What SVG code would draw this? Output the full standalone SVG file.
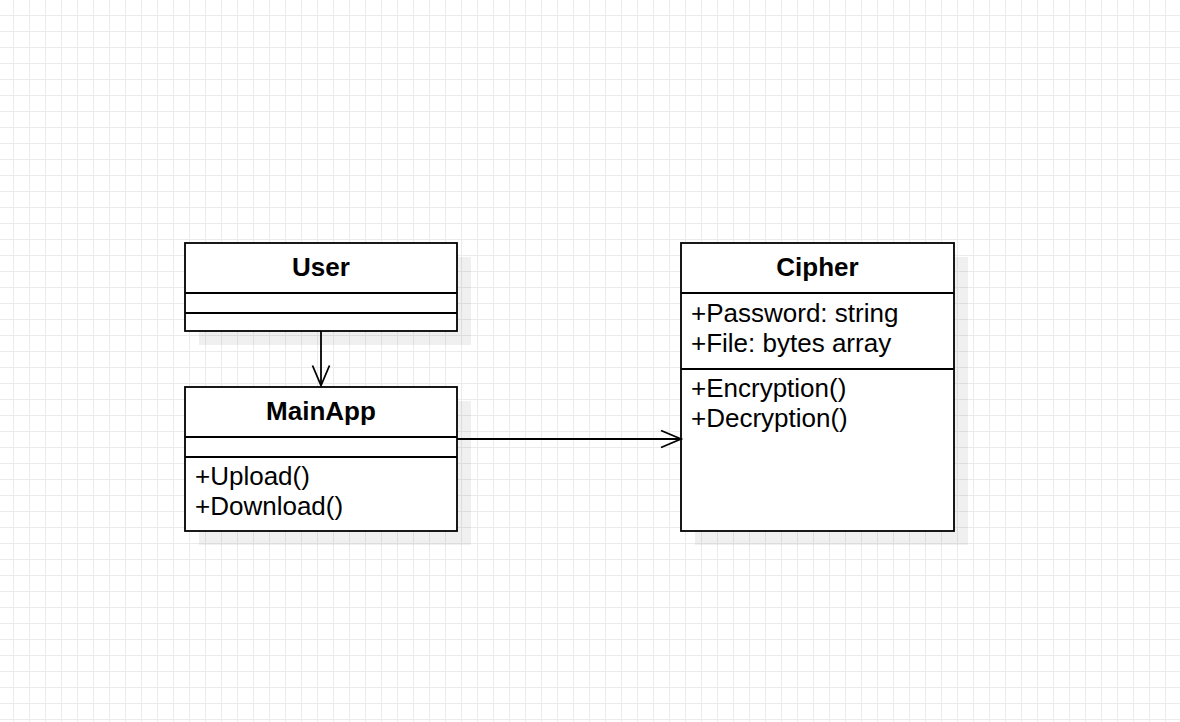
<svg xmlns="http://www.w3.org/2000/svg" width="1180" height="722" viewBox="0 0 1180 722">
<style>
.box{fill:#ffffff;stroke:#000000;stroke-width:1.8}
.div{stroke:#000000;stroke-width:1.8;fill:none}
.shadow{fill:#000000;fill-opacity:0.06}
.title{font-family:"Liberation Sans",Arial,sans-serif;font-size:26px;font-weight:bold;fill:#000;text-anchor:middle}
.row{font-family:"Liberation Sans",Arial,sans-serif;font-size:26px;fill:#000}
.edge{stroke:#000;stroke-width:1.8;fill:none}
</style>
<defs>
<pattern id="grid" x="13" y="15" width="16" height="16" patternUnits="userSpaceOnUse">
<rect x="0" y="0" width="1" height="16" fill="#ebebeb"/>
<rect x="0" y="0" width="16" height="1" fill="#ebebeb"/>
</pattern>
</defs>
<rect x="0" y="0" width="1180" height="722" fill="#ffffff"/>
<rect x="0" y="0" width="1180" height="722" fill="url(#grid)"/>
<g id="User">
<rect class="shadow" x="199" y="257" width="272" height="88"/>
<rect class="box" x="185" y="243" width="272" height="88"/>
<line class="div" x1="185" y1="293" x2="457" y2="293"/>
<line class="div" x1="185" y1="313" x2="457" y2="313"/>
<text class="title" x="321" y="276">User</text>
</g>
<g id="MainApp">
<rect class="shadow" x="199" y="401" width="272" height="144"/>
<rect class="box" x="185" y="387" width="272" height="144"/>
<line class="div" x1="185" y1="437" x2="457" y2="437"/>
<line class="div" x1="185" y1="457" x2="457" y2="457"/>
<text class="title" x="321" y="420">MainApp</text>
<text class="row" x="195" y="485">+Upload()</text>
<text class="row" x="195" y="515">+Download()</text>
</g>
<g id="Cipher">
<rect class="shadow" x="695" y="257" width="273" height="288"/>
<rect class="box" x="681" y="243" width="273" height="288"/>
<line class="div" x1="681" y1="293" x2="954" y2="293"/>
<line class="div" x1="681" y1="369" x2="954" y2="369"/>
<text class="title" x="817.5" y="276">Cipher</text>
<text class="row" x="691" y="322">+Password: string</text>
<text class="row" x="691" y="352">+File: bytes array</text>
<text class="row" x="691" y="397">+Encryption()</text>
<text class="row" x="691" y="427">+Decryption()</text>
</g>
<g id="connectors">
<line class="edge" x1="321" y1="331" x2="321" y2="385"/>
<polyline class="edge" points="312.5,365.5 321,385.5 329.5,365.5"/>
<line class="edge" x1="457" y1="439" x2="680" y2="439"/>
<polyline class="edge" points="661,430.5 681,439 661,447.5"/>
</g>
</svg>
